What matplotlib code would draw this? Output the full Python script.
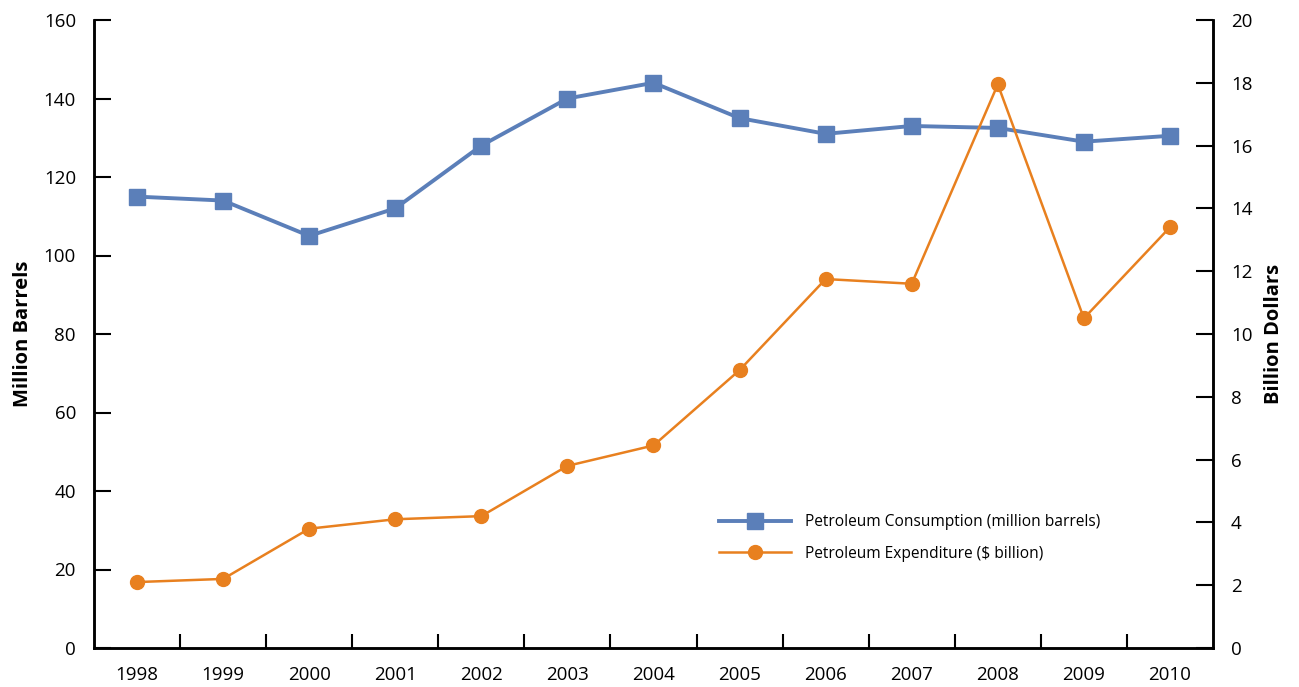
import matplotlib.pyplot as plt

plt.rcParams['font.family'] = ['Open Sans', 'DejaVu Sans']

years = ['1998', '1999', '2000', '2001', '2002', '2003', '2004',
         '2005', '2006', '2007', '2008', '2009', '2010']
consumption = [115, 114, 105, 112, 128, 140, 144, 135, 131, 133, 132.5, 129, 130.5]
expenditure = [2.1, 2.2, 3.8, 4.1, 4.2, 5.8, 6.45, 8.85, 11.75, 11.6, 17.95, 10.5, 13.4]

BLUE = '#5b7fb9'
ORANGE = '#e8801f'

fig = plt.figure(figsize=(12.99, 6.87), dpi=100)
ax = fig.add_axes([94 / 1299, 1 - 648 / 687, (1213 - 94) / 1299, (648 - 20) / 687])
ax2 = ax.twinx()

x = list(range(len(years)))
l1, = ax.plot(x, consumption, color=BLUE, lw=2.8, marker='s', ms=11,
              label='Petroleum Consumption (million barrels)')
l2, = ax2.plot(x, expenditure, color=ORANGE, lw=1.8, marker='o', ms=10,
               label='Petroleum Expenditure ($ billion)')

ax.set_xlim(-0.5, len(years) - 0.5)
ax.set_ylim(0, 160)
ax2.set_ylim(0, 20)
ax.set_yticks(range(0, 161, 20))
ax2.set_yticks(range(0, 21, 2))

# year labels centred, tick marks between categories
ax.set_xticks(x)
ax.set_xticklabels(years)
ax.set_xticks([i + 0.5 for i in x[:-1]], minor=True)
ax.tick_params(axis='x', which='major', length=0, pad=13, labelsize=13.5)
ax.tick_params(axis='x', which='minor', direction='in', length=10, width=1.5)
ax.tick_params(axis='y', direction='in', length=12, width=1.5, pad=13, labelsize=13.5)
ax2.tick_params(axis='y', direction='in', length=12, width=1.5, pad=13, labelsize=13.5)

for a in (ax, ax2):
    a.spines['top'].set_visible(False)
    for s in ('left', 'right', 'bottom'):
        a.spines[s].set_linewidth(1.8)

ax.set_ylabel('Million Barrels', fontsize=14.5, fontweight='bold', labelpad=8)
ax2.set_ylabel('Billion Dollars', fontsize=14.5, fontweight='bold', labelpad=8)

fig.legend([l1, l2], [l1.get_label(), l2.get_label()], frameon=False,
           loc='upper left', bbox_to_anchor=(705 / 1299, 1 - 500 / 687),
           handlelength=4.6, handletextpad=0.9, labelspacing=1.0, fontsize=11.2)

fig.savefig('out.png', dpi=100)
